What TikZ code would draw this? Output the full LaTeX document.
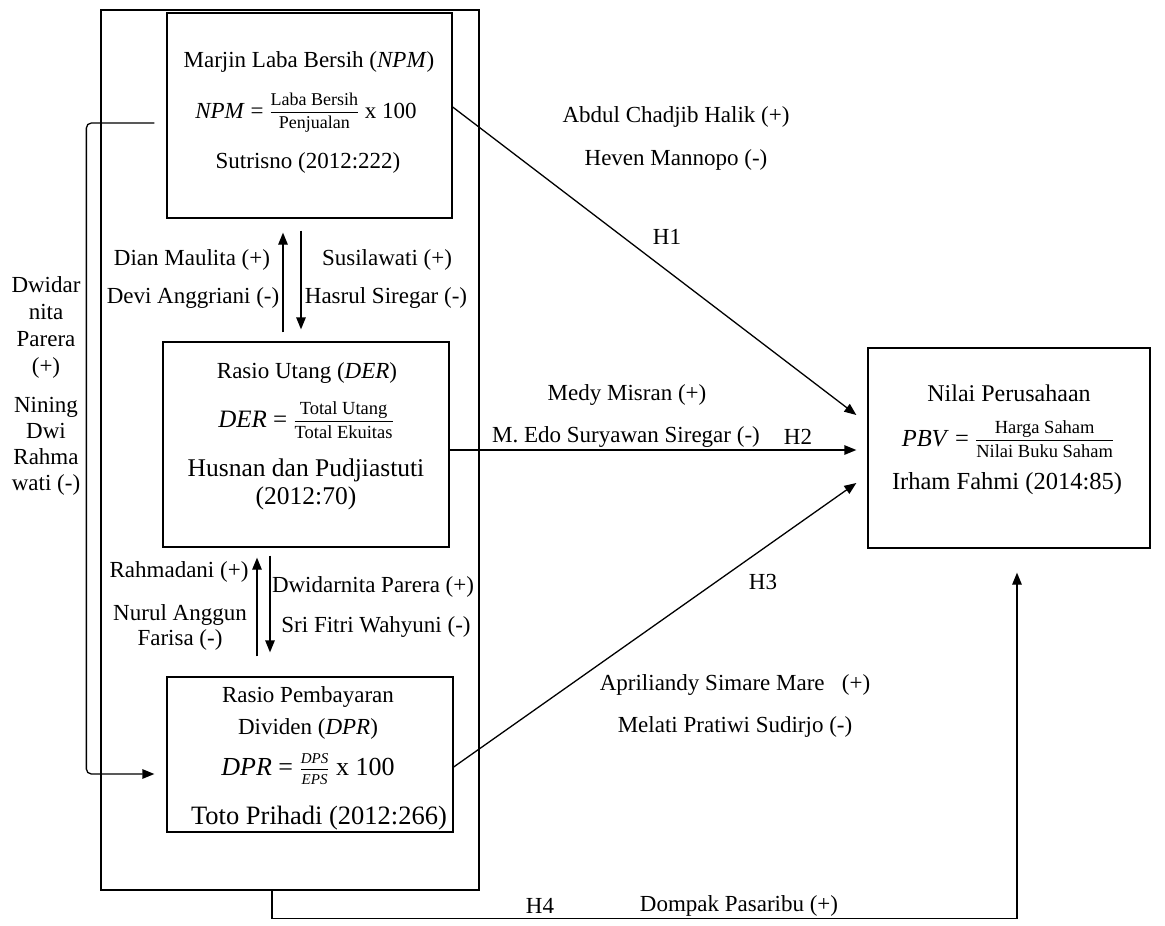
\documentclass[tikz,border=0pt]{standalone}
\usepackage{amsmath}
\usepackage{fontspec}
\setmainfont{Liberation Serif}
\usetikzlibrary{arrows.meta,calc}
\newcommand{\myfrac}[3]{$\genfrac{}{}{0.8pt}{1}{\text{\fontsize{#1}{#1}\selectfont\rule[-0.3em]{0pt}{0pt}#2}}{\text{\fontsize{#1}{#1}\selectfont\rule{0pt}{0.85em}#3}}$}
\tikzset{
  box/.style={draw, line width=1.3pt, inner sep=0pt},
  lbl/.style={inner sep=0pt, font=\fontsize{23}{27}\selectfont, align=center},
  conn/.style={line width=1.3pt, -{Triangle[length=12pt,width=9.5pt]}},
  plainline/.style={line width=1.3pt},
}
\begin{document}
\begin{tikzpicture}[x=1pt,y=-1pt]
\useasboundingbox (0,0) rectangle (1165,926);
% boxes
\node[box, minimum width=378pt, minimum height=880pt] (outer) at (290,450) {};
\node[box, minimum width=285pt, minimum height=205pt] (npm) at (309.5,115.5) {};
\node[box, minimum width=286pt, minimum height=205pt] (der) at (306,444.5) {};
\node[box, minimum width=286pt, minimum height=155pt] (dpr) at (310,754.5) {};
\node[box, minimum width=282pt, minimum height=200pt] (pbv) at (1009,448) {};
% NPM box text
\node[lbl] (t1a) at (309,62) {Marjin Laba Bersih (\textit{NPM})};
\node[lbl] (t1b) at (306,113) {\textit{NPM} = \myfrac{18}{Laba Bersih}{Penjualan} x 100};
\node[lbl] (t1c) at (308,163) {Sutrisno (2012:222)};
% DER box text
\node[lbl] (t2a) at (307,373) {Rasio Utang (\textit{DER})};
\node[lbl, font=\fontsize{25}{29}\selectfont] (t2b) at (306,420) {\textit{DER} = \myfrac{18.5}{Total Utang}{Total Ekuitas}};
\node[lbl, font=\fontsize{25.5}{28}\selectfont] (t2c) at (306,484) {Husnan dan Pudjiastuti\\(2012:70)};
% DPR box text
\node[lbl, font=\fontsize{23}{32}\selectfont] (t3a) at (308,713) {Rasio Pembayaran\\Dividen (\textit{DPR})};
\node[lbl, font=\fontsize{26}{30}\selectfont] (t3b) at (308,769) {\textit{DPR} = \myfrac{15}{\textit{DPS}}{\textit{EPS}} x 100};
\node[lbl, font=\fontsize{26.5}{30}\selectfont] (t3c) at (319,818) {Toto Prihadi (2012:266)};
% PBV box text
\node[lbl, font=\fontsize{24}{28}\selectfont] (t4a) at (1009,393) {Nilai Perusahaan};
\node[lbl, font=\fontsize{24.5}{28}\selectfont] (t4b) at (1008,439) {\textit{PBV} = \myfrac{18.5}{Harga Saham}{Nilai Buku Saham}};
\node[lbl, font=\fontsize{24.5}{28}\selectfont] (t4c) at (1007,484) {Irham Fahmi (2014:85)};
% labels between boxes
\node[lbl] (l1) at (192,260) {Dian Maulita (+)};
\node[lbl] (l2) at (193,298) {Devi Anggriani (-)};
\node[lbl] (l3) at (387,260) {Susilawati (+)};
\node[lbl] (l4) at (386,298) {Hasrul Siregar (-)};
\node[lbl] (l5) at (179,572) {Rahmadani (+)};
\node[lbl, font=\fontsize{23}{25}\selectfont] (l6) at (180,627) {Nurul Anggun\\Farisa (-)};
\node[lbl] (l7) at (373,587) {Dwidarnita Parera (+)};
\node[lbl] (l8) at (376,627) {Sri Fitri Wahyuni (-)};
% left labels
\node[lbl, font=\fontsize{23}{27}\selectfont] (l9) at (46,327) {Dwidar\\nita\\Parera\\(+)};
\node[lbl, font=\fontsize{23}{26}\selectfont] (l10) at (46,446) {Nining\\Dwi\\Rahma\\wati (-)};
% right side labels
\node[lbl] (r1) at (676,117) {Abdul Chadjib Halik (+)};
\node[lbl] (r2) at (676,160) {Heven Mannopo (-)};
\node[lbl] (h1) at (667,237) {H1};
\node[lbl] (r3) at (627,395) {Medy Misran (+)};
\node[lbl] (r4) at (626,437) {M. Edo Suryawan Siregar (-)};
\node[lbl] (h2) at (798,437) {H2};
\node[lbl] (h3) at (763,582) {H3};
\node[lbl] (r5) at (735,685) {Apriliandy Simare Mare\ \ \ (+)};
\node[lbl] (r6) at (735,727) {Melati Pratiwi Sudirjo (-)};
\node[lbl] (h4) at (540,906) {H4};
\node[lbl] (r7) at (739,906) {Dompak Pasaribu (+)};
% connectors
\draw[conn] ($(npm.east)+(0,-8.5)$) -- ($(pbv.west)+(-11,-33)$);
\draw[conn] ($(der.east)+(0,5.5)$) -- ($(pbv.west)+(-11,2)$);
\draw[conn] ($(dpr.east)+(0,12.5)$) -- ($(pbv.west)+(-11,35)$);
\draw[conn] ($(outer.south)+(-18,0)$) -- ++(0,28) -| ($(pbv.south)+(8,24)$);
\draw[conn] ($(der.north)+(-23,-9)$) -- ($(npm.south)+(-26.5,14)$);
\draw[conn] ($(npm.south)+(-8.5,12)$) -- ($(der.north)+(-5,-12)$);
\draw[conn] ($(dpr.north)+(-53,-20)$) -- ($(der.south)+(-49,10)$);
\draw[conn] ($(der.south)+(-36,8)$) -- ($(dpr.north)+(-40,-24)$);
\draw[conn, rounded corners=5pt] ($(npm.west)+(-12,7.5)$) -- ++(-68,0) -- ++(0,651) -- ($(dpr.west)+(-12,19.5)$);
\end{tikzpicture}
\end{document}
